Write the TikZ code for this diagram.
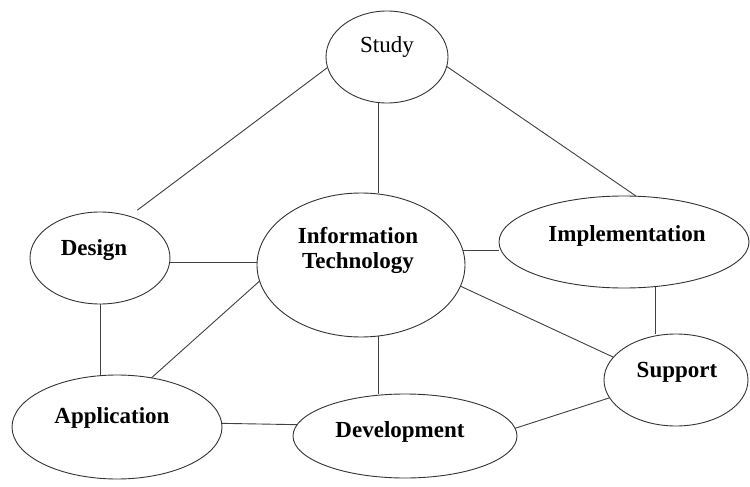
\documentclass[tikz,border=0pt]{standalone}
\usepackage{fontspec}
\setmainfont{Liberation Serif}
\usetikzlibrary{shapes.geometric}
\begin{document}
\begin{tikzpicture}[x=1pt,y=-1pt,
  bubble/.style={draw=black!80, line width=0.9pt, ellipse, inner sep=0pt, outer sep=0pt},
  lbl/.style={font=\fontsize{23}{25}\selectfont\bfseries, anchor=base, inner sep=0pt},
  lblc/.style={font=\fontsize{23}{25}\selectfont\bfseries, anchor=center, inner sep=0pt, align=center},
  lbln/.style={font=\fontsize{23}{25}\selectfont, anchor=base, inner sep=0pt},
  link/.style={draw=black!75, line width=0.9pt}]
\useasboundingbox (0,0) rectangle (750,487);
\fill[white] (0,0) rectangle (750,487);
% ellipses
\node[bubble, minimum width=122pt, minimum height=92pt] (study) at (387,57) {};
\node[bubble, minimum width=140pt, minimum height=92pt] (design) at (100,258) {};
\node[bubble, minimum width=208pt, minimum height=144pt] (it) at (361,265) {};
\node[bubble, minimum width=250pt, minimum height=92pt] (impl) at (624,242) {};
\node[bubble, minimum width=144pt, minimum height=92pt] (support) at (676,380) {};
\node[bubble, minimum width=210pt, minimum height=104pt] (app) at (117,427) {};
\node[bubble, minimum width=224pt, minimum height=84pt] (dev) at (405,436) {};
% texts
\node[lbln] (studyT) at (387,53) {Study};
\node[lbl] (designT) at (94,255) {Design};
\node[lblc] (itT) at (358,250) {Information\\Technology};
\node[lbl] (implT) at (627,241) {Implementation};
\node[lbl] (supportT) at (677,377) {Support};
\node[lbl] (appT) at (112,423) {Application};
\node[lbl] (devT) at (400,437) {Development};
% connectors
\draw[link, shorten >=10pt] (study.190) -- (design.55);
\draw[link] (study.259) -- (study.259 |- it.north);
\draw[link] (study.-9) -- (impl.75);
\draw[link] (design.-4) -- (design.-4 -| it.west);
\draw[link] (design.south) -- (design.south |- app.north);
\draw[link] (it.189) -- (app.55);
\draw[link] (it.8) -- (it.8 -| impl.west);
\draw[link] (it.-76) -- (it.-76 |- dev.north);
\draw[link] (it.-12) -- (support.160);
\draw[link] (impl.-55) -- (impl.-55 |- support.north);
\draw[link] (app.2) -- (dev.174);
\draw[link] (dev.4) -- (support.195);
\end{tikzpicture}
\end{document}
